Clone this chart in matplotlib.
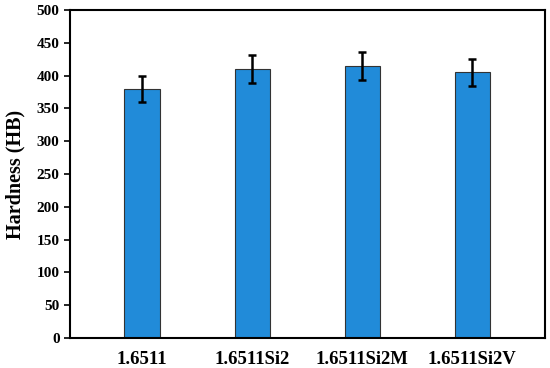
import numpy as np
import matplotlib.pyplot as plt

plt.rcParams['font.family'] = 'Liberation Serif'
plt.rcParams['font.weight'] = 'bold'

samples = ['1.6511', '1.6511Si2', '1.6511Si2M', '1.6511Si2V']
hardness = [380, 410, 415, 405]
errors = [20, 21, 21, 21]

fig = plt.figure(figsize=(5.5, 3.68), dpi=100)
ax = fig.add_axes([70/550, 30/368, 475/550, 328/368])

x = np.arange(len(samples))
ax.bar(x, hardness, width=0.32, color='#218bd9', edgecolor='#333333', linewidth=0.8,
       yerr=errors, error_kw=dict(ecolor='black', elinewidth=1.8, capsize=3, capthick=1.8))

ax.set_xlim(-0.655, 3.66)
ax.set_ylim(0, 500)
ax.set_yticks(np.arange(0, 501, 50))
ax.set_xticks(x)
ax.set_xticklabels(samples, fontsize=13.5, fontweight='bold')
ax.tick_params(axis='x', length=0, pad=9)
ax.tick_params(axis='y', labelsize=11, width=1.2, length=4, direction='out')
ax.set_ylabel('Hardness (HB)', fontsize=14.5, fontweight='bold', labelpad=8)
for s in ax.spines.values():
    s.set_linewidth(1.5)

fig.savefig('out.png', dpi=100)
